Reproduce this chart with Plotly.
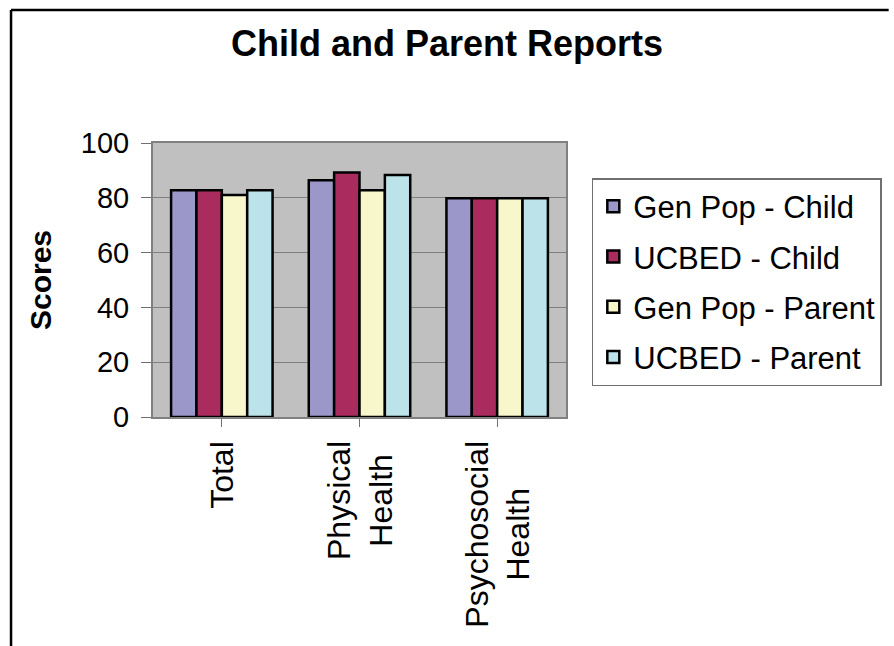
import plotly.graph_objects as go

# Health-related quality-of-life scores, by domain and reporter
categories = ["Total", "Physical<br>Health", "Psychosocial<br>Health"]
gen_pop_child = [82.8, 86.4, 79.8]
ucbed_child = [82.8, 89.2, 79.8]
gen_pop_parent = [81.0, 82.8, 79.8]
ucbed_parent = [82.8, 88.3, 79.8]

series_names = ["Gen Pop - Child", "UCBED - Child", "Gen Pop - Parent", "UCBED - Parent"]
series_values = [gen_pop_child, ucbed_child, gen_pop_parent, ucbed_parent]
series_colors = ["#9b97c9", "#aa2c5f", "#f8f6cb", "#bde3ea"]

y_ticks = [0, 20, 40, 60, 80, 100]

W, H = 894, 646
L, R, T, B = 153, 569, 143, 417  # plot-area edges in pixels

def px_x(p):
    return (p - L) / (R - L)

def px_y(p):
    return (B - p) / (B - T)

FONT = "Liberation Sans, Arial, sans-serif"

fig = go.Figure()
for i, (name, vals, col) in enumerate(zip(series_names, series_values, series_colors)):
    fig.add_trace(go.Bar(
        x=list(range(len(categories))),
        y=vals,
        name=name,
        legendgroup=f"g{i}",
        marker=dict(color=col, line=dict(color="#000000", width=2.5)),
        hoverinfo="skip",
    ))

# category labels, rotated, lines centred
annotations = []
for i, c in enumerate(categories):
    annotations.append(dict(
        x=i, y=px_y(439), xref="x", yref="paper",
        text=c, showarrow=False, textangle=-90,
        xanchor="center", yanchor="top", align="center",
        font=dict(family=FONT, size=32, color="#000000"),
    ))

# outer frame (left and top edges visible)
shapes = [
    dict(type="line", xref="paper", yref="paper",
         x0=px_x(10), x1=px_x(894), y0=px_y(10), y1=px_y(10),
         line=dict(color="#000000", width=2.5)),
    dict(type="line", xref="paper", yref="paper",
         x0=px_x(10), x1=px_x(10), y0=px_y(10), y1=px_y(646),
         line=dict(color="#000000", width=2.5)),
]

fig.update_layout(
    width=W, height=H,
    margin=dict(l=L, r=W - R, t=T, b=H - B, pad=0),
    paper_bgcolor="#ffffff",
    plot_bgcolor="#c0c0c0",
    font=dict(family=FONT, color="#000000"),
    title=dict(
        text="<b>Child and Parent Reports</b>",
        x=0.5, xanchor="center", xref="container",
        y=1 - 31 / H, yanchor="top", yref="container",
        font=dict(family=FONT, size=36, color="#000000"),
    ),
    barmode="group",
    bargap=0.263,
    bargroupgap=0,
    showlegend=True,
    legend=dict(
        x=px_x(595), y=px_y(178), xanchor="left", yanchor="top",
        bordercolor="#707070", borderwidth=1.5, bgcolor="#ffffff",
        font=dict(family=FONT, size=31, color="#000000"),
        tracegroupgap=7,
        traceorder="grouped",
    ),
    xaxis=dict(
        tickmode="array",
        tickvals=list(range(len(categories))),
        ticktext=[""] * len(categories),
        showticklabels=False,
        tickson="boundaries",
        ticks="outside", ticklen=8, tickcolor="#707070", tickwidth=1,
        range=[-0.5, len(categories) - 0.5],
        showline=True, linecolor="#808080", linewidth=2, mirror=True,
        showgrid=False, zeroline=False,
    ),
    yaxis=dict(
        range=[0, 100],
        tickmode="array", tickvals=y_ticks,
        ticks="outside", ticklen=10, tickcolor="#707070", tickwidth=1,
        ticklabelstandoff=6,
        tickfont=dict(family=FONT, size=29, color="#000000"),
        showline=True, linecolor="#808080", linewidth=2, mirror=True,
        showgrid=True, gridcolor="#808080", gridwidth=1,
        zeroline=False,
        title=dict(text="<b>Scores</b>", standoff=20,
                   font=dict(family=FONT, size=30, color="#000000")),
    ),
    annotations=annotations,
    shapes=shapes,
)

fig.write_html("out.html")
